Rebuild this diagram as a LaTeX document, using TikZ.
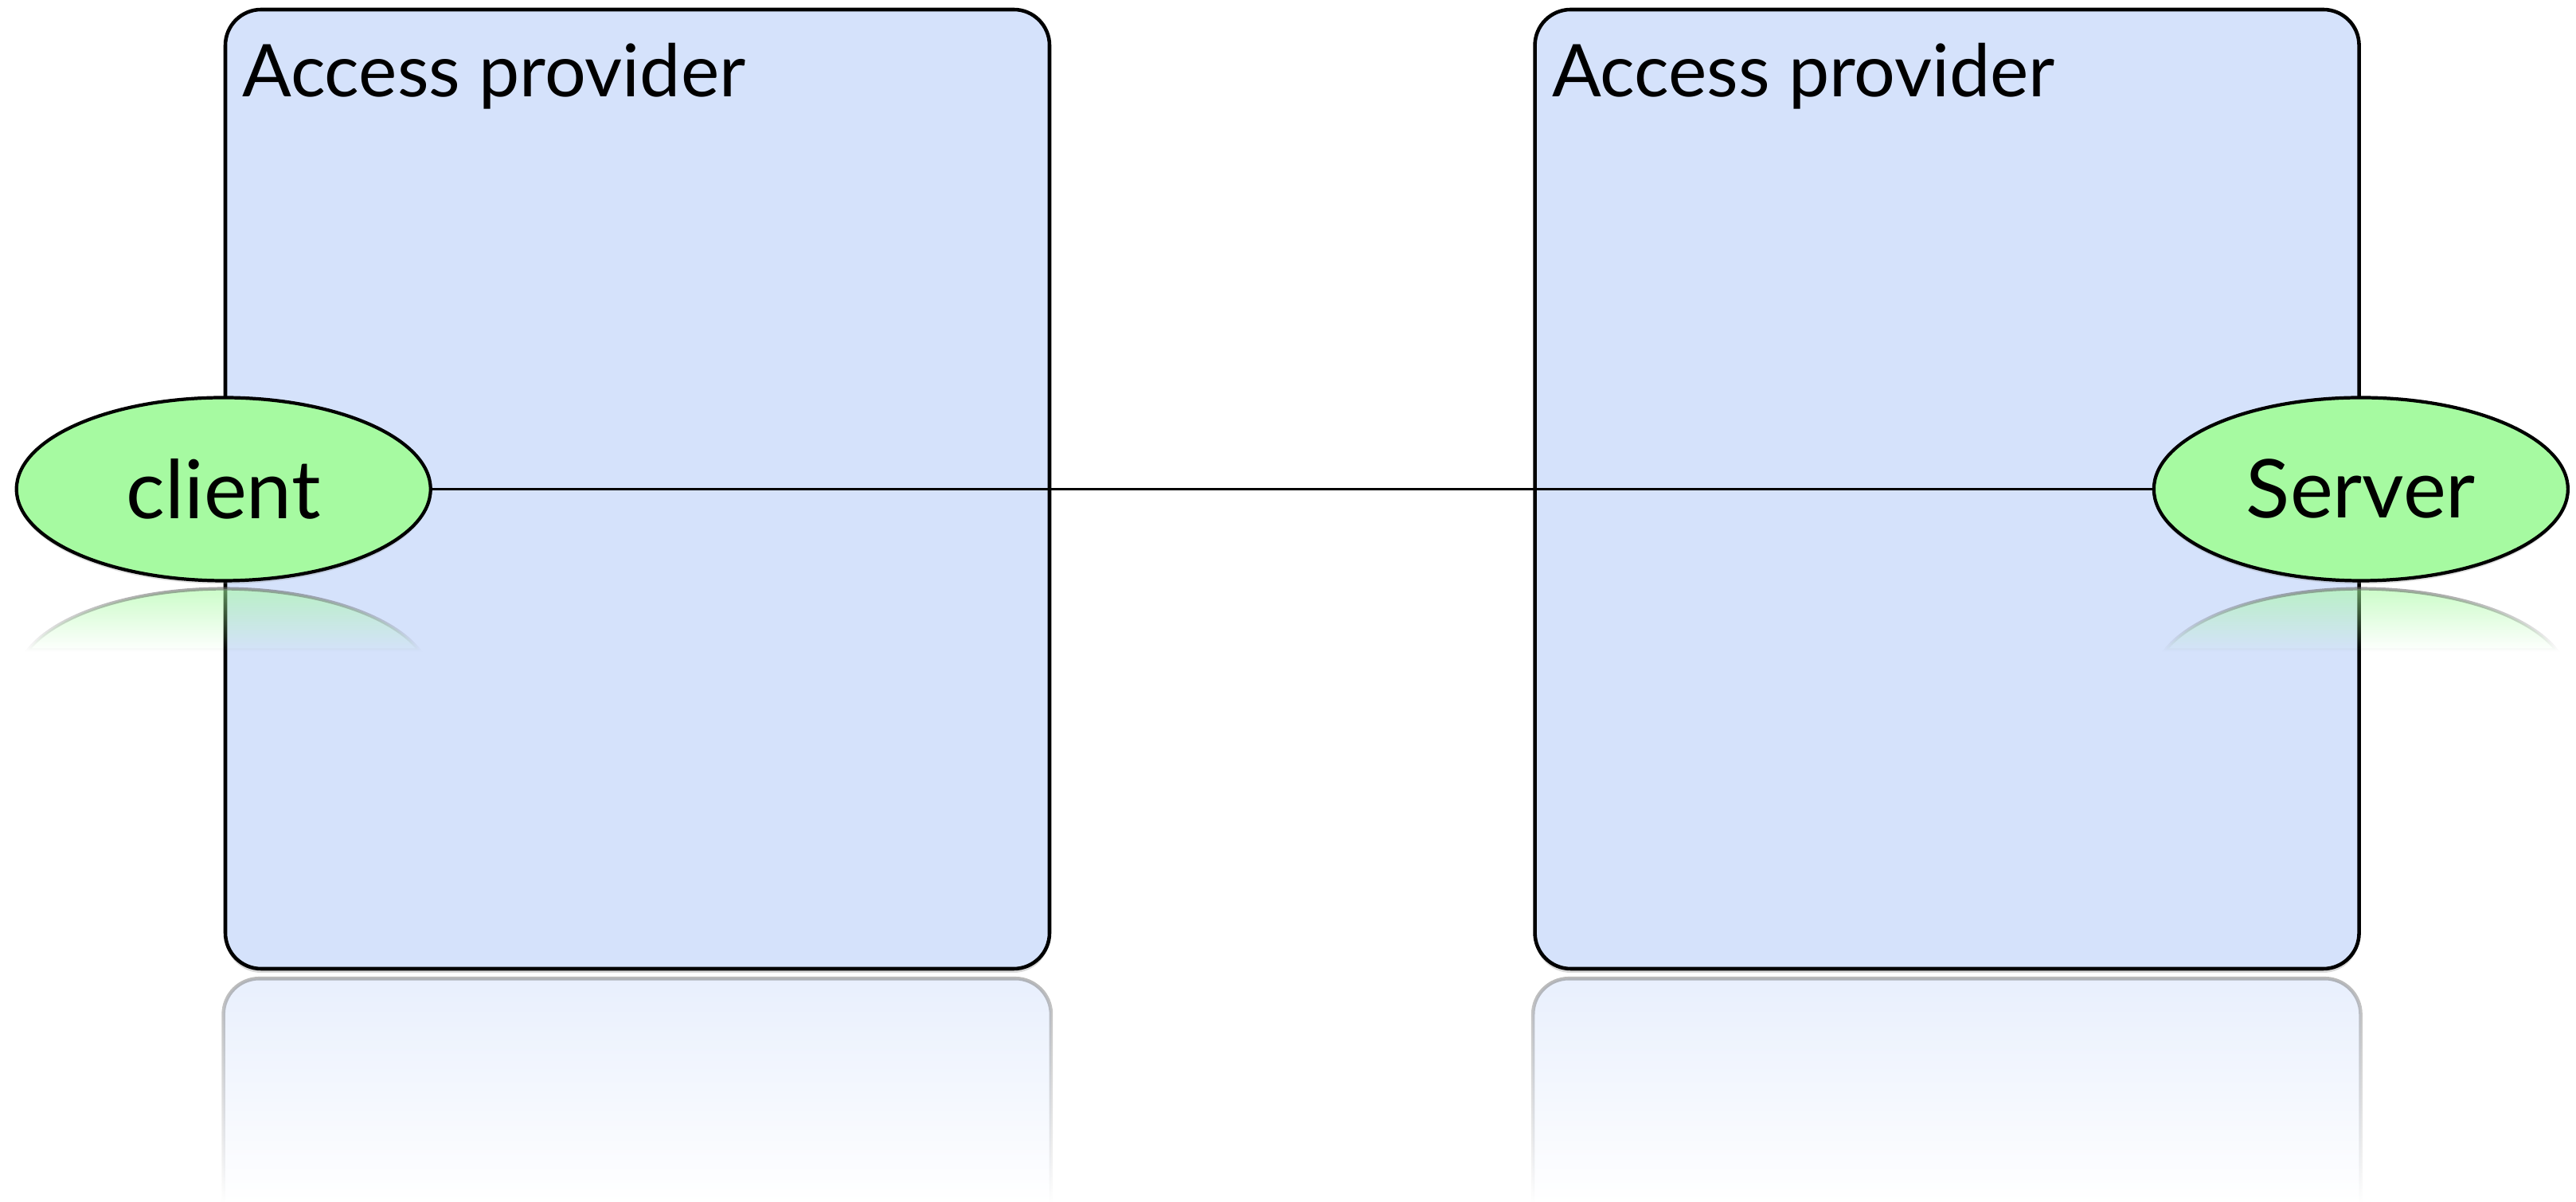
\documentclass[tikz,border=0pt]{standalone}
\usepackage{fontspec}
\setmainfont{Lato}
\usetikzlibrary{positioning, shapes.geometric, fadings, shadows}

\definecolor{providerblue}{RGB}{213,226,251}
\definecolor{endpointgreen}{RGB}{166,250,161}

\tikzfading[name=boxfade, top color=transparent!45, bottom color=transparent!100]
\tikzfading[name=ellfade, top color=transparent!30, bottom color=transparent!100]

\tikzstyle{provider} = [draw, line width=1.3pt, rounded corners=0.45cm, fill=providerblue,
  minimum width=10.35cm, minimum height=12.05cm, inner sep=0pt,
  drop shadow={opacity=0.3, shadow xshift=0pt, shadow yshift=-0.05cm}]
\tikzstyle{title} = [font=\fontsize{26}{31}\selectfont, inner sep=0pt, anchor=base west]
\tikzstyle{endpoint} = [ellipse, draw, line width=1.2pt, fill=endpointgreen,
  minimum width=5.2cm, minimum height=2.3cm, inner sep=0pt, font=\fontsize{29}{34}\selectfont,
  drop shadow={opacity=0.25, shadow xshift=0pt, shadow yshift=-0.04cm}]
\tikzstyle{boxmirror} = [fill=providerblue, draw=black!50, line width=1.3pt, rounded corners=0.45cm, path fading=boxfade]
\tikzstyle{ellmirror} = [fill=endpointgreen, draw=black!60, line width=1.2pt, path fading=ellfade]
\tikzstyle{link} = [line width=0.9pt]

\begin{document}
\begin{tikzpicture}
  \useasboundingbox (0,0) rectangle (32.35,15.1);
  \coordinate (floor) at (0,0);

  % Access providers
  \node[provider] (ap1) at (8.005,8.955) {};
  \node[provider, right=6.05cm of ap1] (ap2) {};
  \node[title, xshift=0.23cm, yshift=-1.12cm] (t1) at (ap1.north west) {Access provider};
  \node[title, xshift=0.23cm, yshift=-1.12cm] (t2) at (ap2.north west) {Access provider};

  % Mirror images below the boxes
  \path[boxmirror] (ap1.south west |- floor) -- ([yshift=-0.1cm]ap1.south west)
    -- ([yshift=-0.1cm]ap1.south east) -- (ap1.south east |- floor);
  \path[boxmirror] (ap2.south west |- floor) -- ([yshift=-0.1cm]ap2.south west)
    -- ([yshift=-0.1cm]ap2.south east) -- (ap2.south east |- floor);

  % End points
  \node[endpoint] (client) at (ap1.west) {client};
  \node[endpoint] (server) at (ap2.east) {Server};

  % Mirror images below the end points (upper part only)
  \coordinate (cm) at ([yshift=-1.23cm]client.south);
  \coordinate (sm) at ([yshift=-1.23cm]server.south);
  \path[ellmirror] ([shift={(19.3:2.6cm and 1.15cm)}]cm)
    arc[start angle=19.3, end angle=160.7, x radius=2.6cm, y radius=1.15cm] -- cycle;
  \path[ellmirror] ([shift={(19.3:2.6cm and 1.15cm)}]sm)
    arc[start angle=19.3, end angle=160.7, x radius=2.6cm, y radius=1.15cm] -- cycle;

  \draw[link] (client) -- (server);
\end{tikzpicture}
\end{document}
